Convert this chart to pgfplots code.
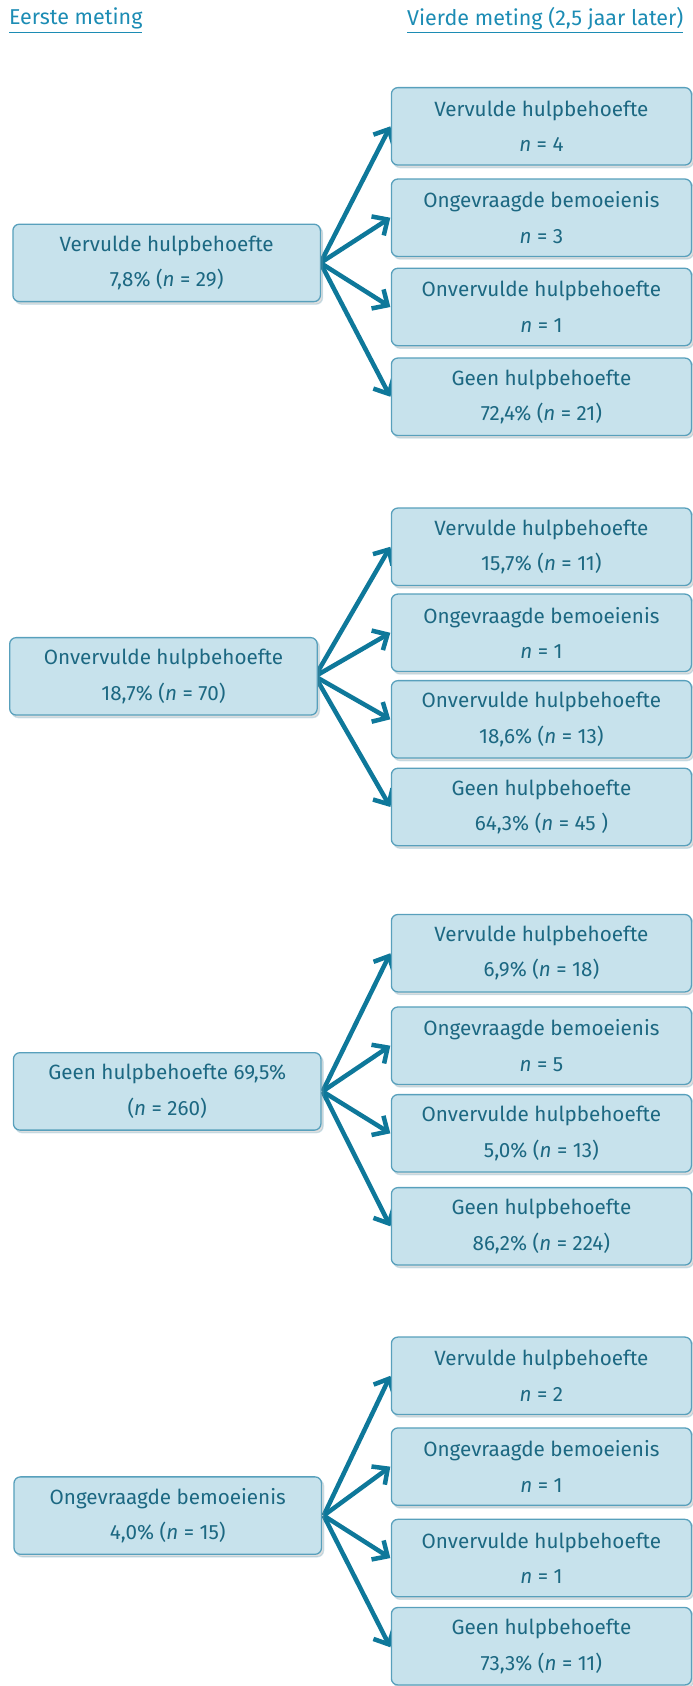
\documentclass[border=0pt]{standalone}
\usepackage{pgfplots}
\pgfplotsset{compat=1.18}
\usepackage{fontspec}
\setmainfont{Fira Sans}
\usetikzlibrary{arrows.meta,shadows}

\definecolor{boxfill}{RGB}{199,226,236}
\definecolor{boxdraw}{RGB}{88,160,188}
\definecolor{boxtext}{RGB}{28,104,130}
\definecolor{arrowcol}{RGB}{14,120,154}
\definecolor{headcol}{RGB}{28,140,180}

\begin{document}
\begin{tikzpicture}
\begin{axis}[
    width=322pt, height=784pt,
    scale only axis,
    xmin=0, xmax=644,
    ymin=0, ymax=1568,
    y dir=reverse,
    axis lines=none,
    clip=false,
    point meta=explicit symbolic,
    boxstyle/.style={
        only marks, mark=*,
        mark options={draw=none, fill=none},
        nodes near coords,
        every node near coord/.style={
            anchor=center, align=center,
            rounded corners=3pt,
            fill=boxfill, draw=boxdraw, line width=0.6pt,
            drop shadow={shadow xshift=1pt, shadow yshift=-1.2pt, opacity=0.25},
            text=boxtext,
            font=\fontsize{9.6}{16.5}\selectfont,
            inner sep=0pt,
            minimum width=#1, minimum height=36pt,
        },
    },
]
% keep the full drawing area in the picture
\path (rel axis cs:0,0) rectangle (rel axis cs:1,1);

% arrows: start (x,y), direction (u,v)
\addplot[
    quiver={u=\thisrow{u}, v=\thisrow{v}},
    arrowcol, line width=2.1pt,
    -{Straight Barb[length=5.5pt, width=10.5pt, line width=2.1pt]},
] table {
x   y     u   v
298 244.5 65 -127
298 244.5 65 -42
298 244.5 65 41
298 244.5 65 124.5
293 629   70 -120.5
293 629   70 -40.5
293 629   70 40
293 629   70 121.5
300 1015  63 -128.5
300 1015  63 -42.5
300 1015  63 39
300 1015  63 125.5
301 1409.5 62 -130
301 1409.5 62 -45.5
301 1409.5 62 39.5
301 1409.5 62 122.5
};

% left column: first measurement
\addplot[boxstyle=143pt] coordinates {
    (155,244.5) [{Vervulde hulpbehoefte\\7,8\% (\emph{n} = 29)}]
    (152,629)   [{Onvervulde hulpbehoefte\\18,7\% (\emph{n} = 70)}]
    (155.5,1015) [{Geen hulpbehoefte 69,5\%\\(\emph{n} = 260)}]
    (156,1409.5) [{Ongevraagde bemoeienis\\4,0\% (\emph{n} = 15)}]
};

% right column: fourth measurement
\addplot[boxstyle=139.5pt] coordinates {
    (503.5,117.5) [{Vervulde hulpbehoefte\\\emph{n} = 4}]
    (503.5,202.5) [{Ongevraagde bemoeienis\\\emph{n} = 3}]
    (503.5,285.5) [{Onvervulde hulpbehoefte\\\emph{n} = 1}]
    (503.5,369)   [{Geen hulpbehoefte\\72,4\% (\emph{n} = 21)}]
    (503.5,508.5) [{Vervulde hulpbehoefte\\15,7\% (\emph{n} = 11)}]
    (503.5,588.5) [{Ongevraagde bemoeienis\\\emph{n} = 1}]
    (503.5,669)   [{Onvervulde hulpbehoefte\\18,6\% (\emph{n} = 13)}]
    (503.5,750.5) [{Geen hulpbehoefte\\64,3\% (\emph{n} = 45 )}]
    (503.5,886.5) [{Vervulde hulpbehoefte\\6,9\% (\emph{n} = 18)}]
    (503.5,972.5) [{Ongevraagde bemoeienis\\\emph{n} = 5}]
    (503.5,1054)  [{Onvervulde hulpbehoefte\\5,0\% (\emph{n} = 13)}]
    (503.5,1140.5) [{Geen hulpbehoefte\\86,2\% (\emph{n} = 224)}]
    (503.5,1279.5) [{Vervulde hulpbehoefte\\\emph{n} = 2}]
    (503.5,1364)  [{Ongevraagde bemoeienis\\\emph{n} = 1}]
    (503.5,1449)  [{Onvervulde hulpbehoefte\\\emph{n} = 1}]
    (503.5,1531)  [{Geen hulpbehoefte\\73,3\% (\emph{n} = 11)}]
};

\node[anchor=west, text=headcol, font=\fontsize{10}{11}\selectfont, inner sep=0pt]
    at (axis cs:8,19) {\underline{Eerste meting}};
\node[anchor=east, text=headcol, font=\fontsize{10}{11}\selectfont, inner sep=0pt]
    at (axis cs:636,19) {\underline{Vierde meting (2,5 jaar later)}};
\end{axis}
\end{tikzpicture}
\end{document}
